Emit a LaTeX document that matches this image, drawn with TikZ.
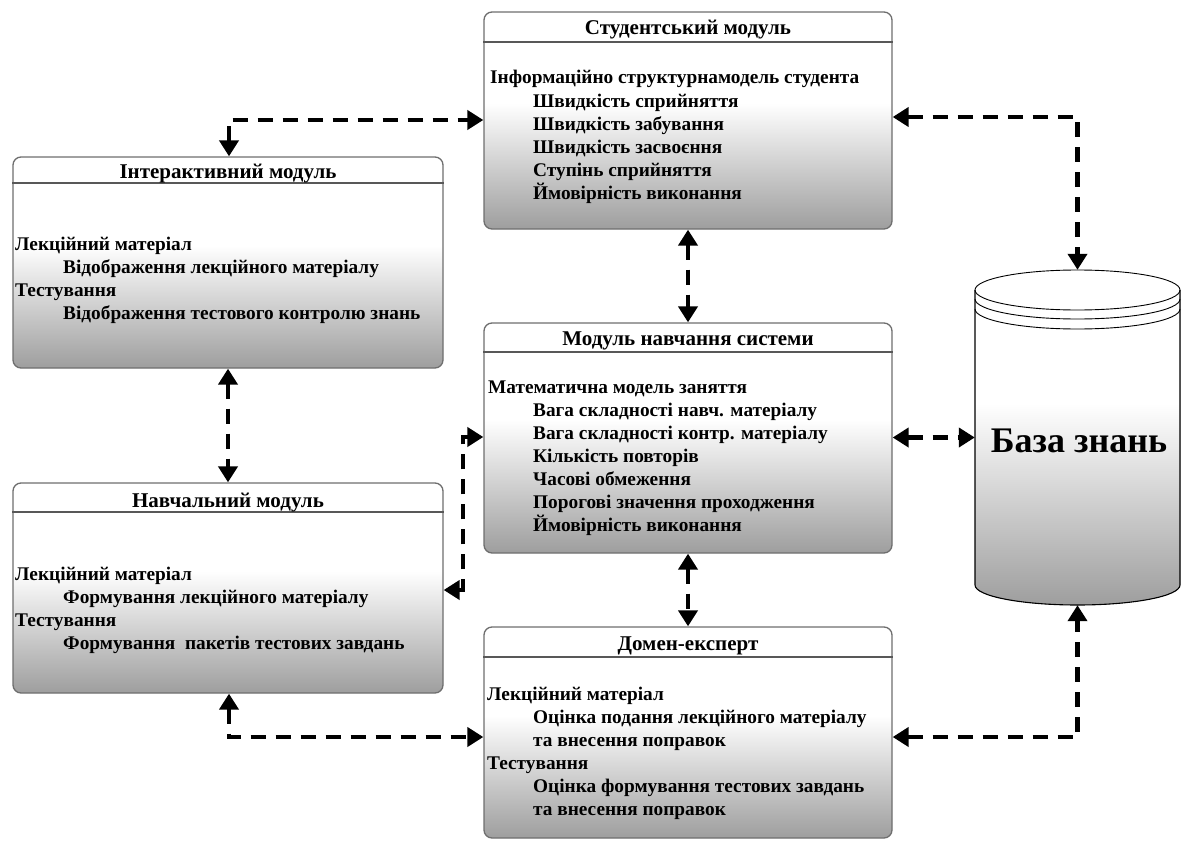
\documentclass[tikz,border=0pt]{standalone}
\usepackage{fontspec}
\setmainfont{Liberation Serif}
\usetikzlibrary{arrows.meta,calc}

\definecolor{boxedge}{HTML}{6E6E6E}
\definecolor{shadelo}{HTML}{9E9E9E}
% white upper half fading to grey at the bottom edge
\pgfdeclareverticalshading{panelshade}{100bp}{color(0bp)=(shadelo); color(25bp)=(shadelo); color(54bp)=(white); color(100bp)=(white)}
\pgfdeclareverticalshading{cylshade}{100bp}{color(0bp)=(shadelo); color(25bp)=(shadelo); color(57bp)=(white); color(100bp)=(white)}

\tikzset{
  panel/.style={draw=boxedge, line width=1.3pt, rounded corners=8pt, shading=panelshade, inner sep=0pt},
  headrule/.style={draw=boxedge!80!black, line width=1.2pt},
  paneltitle/.style={font=\fontsize{21}{24}\selectfont\bfseries, anchor=base, inner sep=0pt},
  item/.style={font=\fontsize{19.3}{23}\selectfont\bfseries, anchor=base west, inner sep=0pt},
  link/.style={draw=black, line width=4.5pt, dash pattern=on 15pt off 10pt,
    {Triangle[length=16pt,width=19pt]}-{Triangle[length=16pt,width=19pt]}},
}

\begin{document}
\begin{tikzpicture}[x=1pt,y=-1pt]
\useasboundingbox (0,0) rectangle (1181,843);

% ---------- module panels ----------
\node[panel, minimum width=408pt, minimum height=217pt] (stud)  at (688,120.5) {};
\node[panel, minimum width=430pt, minimum height=211pt] (inter) at (228,262.5) {};
\node[panel, minimum width=430pt, minimum height=210pt] (learn) at (228,588) {};
\node[panel, minimum width=408pt, minimum height=230pt] (sys)   at (688,438) {};
\node[panel, minimum width=408pt, minimum height=211pt] (dom)   at (688,732.5) {};

\draw[headrule] (stud.west  |- 0,42)  -- (stud.east  |- 0,42);
\draw[headrule] (inter.west |- 0,183) -- (inter.east |- 0,183);
\draw[headrule] (learn.west |- 0,512) -- (learn.east |- 0,512);
\draw[headrule] (sys.west   |- 0,352) -- (sys.east   |- 0,352);
\draw[headrule] (dom.west   |- 0,657) -- (dom.east   |- 0,657);

% ---------- titles ----------
\node[paneltitle] (studT)  at (688,35)  {Студентський модуль};
\node[paneltitle] (interT) at (228,178) {Інтерактивний модуль};
\node[paneltitle] (learnT) at (228,507) {Навчальний модуль};
\node[paneltitle] (sysT)   at (688,345) {Модуль навчання системи};
\node[paneltitle] (domT)   at (688,650) {Домен-експерт};

% ---------- panel contents ----------
\foreach \ind/\txt [count=\k] in {
  0/Інформаційно структурнамодель студента,
  1/Швидкість сприйняття,
  1/Швидкість забування,
  1/Швидкість засвоєння,
  1/Ступінь сприйняття,
  1/Ймовірність виконання}
  \node[item, name=st\k] at (490+\ind*43, 84+\k*23-23) {\txt};

\foreach \ind/\txt [count=\k] in {
  0/Лекційний матеріал,
  1/Відображення лекційного матеріалу,
  0/Тестування,
  1/Відображення тестового контролю знань}
  \node[item, name=in\k] at (15+\ind*48, 250+\k*23-23) {\txt};

\foreach \ind/\txt [count=\k] in {
  0/Лекційний матеріал,
  1/Формування лекційного матеріалу,
  0/Тестування,
  1/Формування~ пакетів тестових завдань}
  \node[item, name=le\k] at (15+\ind*48, 580+\k*23-23) {\txt};

\foreach \ind/\txt [count=\k] in {
  0/Математична модель заняття,
  1/Вага складності навч. матеріалу,
  1/Вага складності контр. матеріалу,
  1/Кількість повторів,
  1/Часові обмеження,
  1/Порогові значення проходження,
  1/Ймовірність виконання}
  \node[item, name=sy\k] at (488+\ind*45, 393+\k*23-23) {\txt};

\foreach \ind/\txt [count=\k] in {
  0/Лекційний матеріал,
  1/Оцінка подання лекційного матеріалу,
  1/та внесення поправок,
  0/Тестування,
  1/Оцінка формування тестових завдань,
  1/та внесення поправок}
  \node[item, name=do\k] at (487+\ind*46, 700+\k*23-23) {\txt};

% ---------- knowledge base cylinder ----------
\fill[shading=cylshade] (975,290) -- (975,585)
  arc[start angle=180, end angle=0, x radius=102.5, y radius=20] -- (1180,290) -- cycle;
\fill[white] (1077.5,290) ellipse[x radius=102.5, y radius=20];
\draw[line width=1.1pt] (975,290) -- (975,585)
  arc[start angle=180, end angle=0, x radius=102.5, y radius=20] -- (1180,290);
\draw[line width=0.9pt] (1077.5,290) ellipse[x radius=102.5, y radius=20];
\draw[line width=0.9pt] (975,299) arc[start angle=180, end angle=0, x radius=102.5, y radius=20];
\draw[line width=0.9pt] (975,309) arc[start angle=180, end angle=0, x radius=102.5, y radius=20];
\node[minimum width=205pt, minimum height=335pt, inner sep=0pt] (kb) at (1077.5,437.5) {};
\node[font=\fontsize{36}{38}\selectfont\bfseries, anchor=base, inner sep=0pt] (kbT) at (1079,452) {База знань};

% ---------- connectors ----------
\coordinate (c1) at (229,120);
\coordinate (c2) at (1077.5,117);
\coordinate (c3) at (463,437);
\coordinate (c4) at (463,590);
\coordinate (c5) at (229,737);
\coordinate (c6) at (1077.5,737);

\draw[link] (inter.north -| c1) -- (c1) -- (c1 -| stud.west);
\draw[link] (stud.east |- c2) -- (c2) -- (kb.north);
\draw[link] (stud.south) -- (sys.north);
\draw[link] (sys.south) -- (dom.north);
\draw[link] (sys.east |- kb.west) -- (kb.west);
\draw[link] (inter.south) -- (learn.north);
\draw[link] (learn.east |- c4) -- (c4) -- (c3) -- (c3 -| sys.west);
\draw[link] (learn.south -| c5) -- (c5) -- (c5 -| dom.west);
\draw[link] (dom.east |- c6) -- (c6) -- (kb.south);
\end{tikzpicture}
\end{document}
